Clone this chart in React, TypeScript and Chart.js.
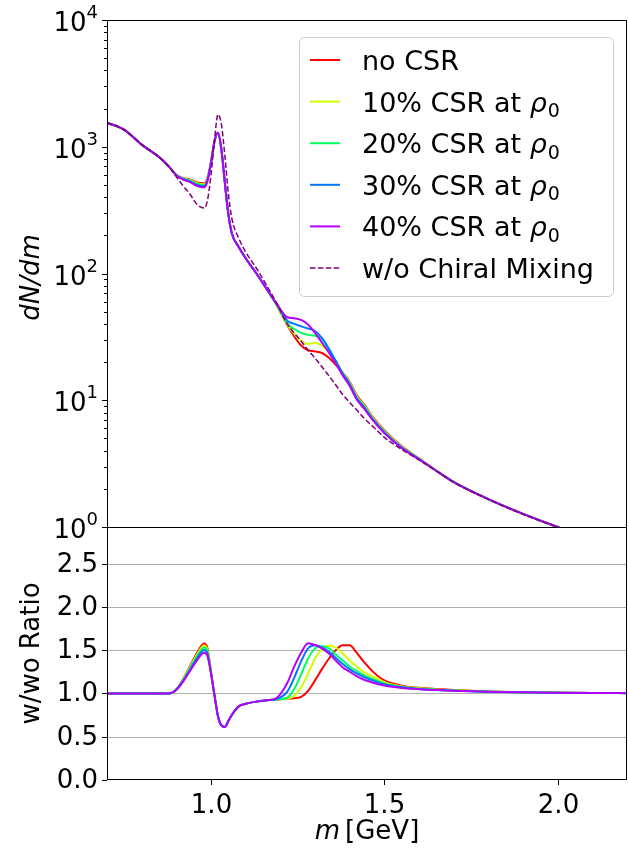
import { useEffect, useRef } from 'react';
import { Chart, registerables } from 'chart.js';

Chart.register(...registerables);

// Invariant mass grid [GeV]
const MASS = [
  0.70, 0.75, 0.80, 0.85, 0.88, 0.90, 0.92, 0.94, 0.96,
  0.98, 0.99, 1.00, 1.01, 1.02, 1.03, 1.04, 1.05, 1.06,
  1.08, 1.10, 1.13, 1.16, 1.19,
  1.22, 1.24, 1.26, 1.28, 1.30, 1.32, 1.34, 1.36, 1.38, 1.40, 1.42, 1.44,
  1.47, 1.50, 1.55, 1.60, 1.65, 1.70,
  1.80, 1.90, 2.00, 2.10, 2.20,
];

// dN/dm spectra
const DNDM_NO_CSR = [
  1550, 1360, 1040, 830, 690, 602, 568, 552, 522,
  515, 572, 762, 1100, 1290, 950, 520, 295, 208,
  162, 132, 101, 76, 56,
  39, 32.0, 27.0, 24.8, 24.3, 23.6, 21.6, 19.0, 16.5, 14.0, 11.0, 9.4,
  7.2, 5.8, 4.35, 3.48, 2.78, 2.27,
  1.66, 1.27, 1.0, 0.79, 0.63,
];
const DNDM_CSR10 = [
  1550, 1360, 1040, 830, 690, 600, 564, 546, 515,
  506, 564, 757, 1100, 1290, 950, 520, 295, 208,
  162, 132, 101, 76, 56,
  39.5, 33.5, 29.5, 27.8, 28.4, 27.0, 23.8, 20.0, 16.5, 13.8, 10.8, 9.25,
  7.1, 5.72, 4.31, 3.47, 2.78, 2.27,
  1.66, 1.27, 1.0, 0.79, 0.63,
];
const DNDM_CSR20 = [
  1550, 1360, 1040, 830, 690, 598, 560, 540, 508,
  497, 555, 752, 1100, 1290, 950, 520, 295, 208,
  162, 132, 101, 76, 56.3,
  40.5, 36.5, 34.0, 32.8, 32.3, 30.5, 25.3, 20.5, 16.4, 13.6, 10.6, 9.1,
  7.0, 5.65, 4.27, 3.45, 2.78, 2.27,
  1.66, 1.27, 1.0, 0.79, 0.63,
];
const DNDM_CSR30 = [
  1550, 1360, 1040, 830, 690, 596, 556, 533, 500,
  488, 546, 747, 1100, 1290, 950, 520, 295, 208,
  162, 132, 101, 76, 56.8,
  42.5, 40.0, 38.3, 36.8, 35.2, 31.0, 25.5, 20.3, 16.2, 13.4, 10.4, 8.9,
  6.9, 5.57, 4.23, 3.43, 2.78, 2.26,
  1.66, 1.27, 1.0, 0.79, 0.63,
];
const DNDM_CSR40 = [
  1550, 1360, 1040, 830, 690, 594, 551, 526, 490,
  478, 538, 742, 1100, 1290, 950, 520, 295, 208,
  162, 132, 101, 76, 57.5,
  45.2, 44.4, 43.0, 39.5, 34.0, 28.5, 23.8, 19.4, 15.7, 13.0, 10.2, 8.7,
  6.8, 5.5, 4.2, 3.42, 2.78, 2.26,
  1.66, 1.27, 1.0, 0.79, 0.63,
];
const DNDM_NO_MIXING = [
  1550, 1360, 1040, 830, 690, 580, 490, 420, 350,
  328, 380, 600, 1120, 1800, 1500, 850, 430, 273,
  190, 148, 111, 81, 58,
  40, 34, 29.3, 24.8, 21.5, 18.4, 15.6, 13.2, 11.1, 9.6, 8.4, 7.3,
  6.1, 5.1, 4.1, 3.38, 2.76, 2.25,
  1.65, 1.26, 0.995, 0.79, 0.63,
];

// with / without chiral mixing
const RATIO_NO_CSR = [
  1, 1, 1, 1, 1, 1.05, 1.17, 1.32, 1.47,
  1.575, 1.52, 1.25, 0.98, 0.74, 0.63, 0.612, 0.68, 0.75,
  0.85, 0.88, 0.905, 0.92, 0.93,
  0.94, 0.945, 0.96, 1.03, 1.15, 1.28, 1.40, 1.50, 1.555, 1.555, 1.47, 1.37,
  1.24, 1.15, 1.09, 1.065, 1.05, 1.038,
  1.022, 1.014, 1.01, 1.006, 1.004,
];
const RATIO_CSR10 = [
  1, 1, 1, 1, 1, 1.048, 1.163, 1.307, 1.451,
  1.552, 1.50, 1.245, 0.98, 0.74, 0.63, 0.612, 0.68, 0.75,
  0.85, 0.88, 0.905, 0.92, 0.93,
  0.94, 0.97, 1.07, 1.23, 1.40, 1.51, 1.55, 1.53, 1.46, 1.38, 1.31, 1.25,
  1.19, 1.13, 1.08, 1.06, 1.046, 1.036,
  1.021, 1.013, 1.009, 1.006, 1.004,
];
const RATIO_CSR20 = [
  1, 1, 1, 1, 1, 1.046, 1.156, 1.294, 1.432,
  1.53, 1.48, 1.24, 0.98, 0.74, 0.63, 0.612, 0.68, 0.75,
  0.85, 0.88, 0.905, 0.92, 0.93,
  0.95, 1.05, 1.22, 1.40, 1.52, 1.545, 1.52, 1.45, 1.38, 1.31, 1.26, 1.21,
  1.16, 1.115, 1.075, 1.055, 1.042, 1.033,
  1.02, 1.013, 1.008, 1.005, 1.003,
];
const RATIO_CSR30 = [
  1, 1, 1, 1, 1, 1.044, 1.148, 1.278, 1.409,
  1.50, 1.455, 1.235, 0.98, 0.74, 0.63, 0.612, 0.68, 0.75,
  0.85, 0.88, 0.905, 0.92, 0.935,
  1.02, 1.18, 1.37, 1.52, 1.555, 1.53, 1.48, 1.41, 1.34, 1.28, 1.23, 1.19,
  1.145, 1.105, 1.07, 1.052, 1.04, 1.031,
  1.019, 1.012, 1.008, 1.005, 1.003,
];
const RATIO_CSR40 = [
  1, 1, 1, 1, 1, 1.041, 1.139, 1.262, 1.385,
  1.47, 1.43, 1.23, 0.98, 0.74, 0.63, 0.612, 0.68, 0.75,
  0.85, 0.88, 0.905, 0.92, 0.95,
  1.12, 1.31, 1.47, 1.58, 1.56, 1.52, 1.46, 1.38, 1.30, 1.25, 1.20, 1.16,
  1.12, 1.09, 1.062, 1.048, 1.038, 1.03,
  1.018, 1.012, 1.008, 1.005, 1.003,
];

const SERIES_LABELS = ['no CSR', '10% CSR at ρ0', '20% CSR at ρ0', '30% CSR at ρ0', '40% CSR at ρ0'];
const SERIES_COLORS = ['#ff0000', '#ccff00', '#00ff5a', '#0077ff', '#b400ff'];
const NO_MIXING_LABEL = 'w/o Chiral Mixing';
const NO_MIXING_COLOR = '#800080';

const LOG_TICKS = [1, 10, 100, 1000, 10000];
const RATIO_TICKS = [0, 0.5, 1.0, 1.5, 2.0, 2.5];
const MASS_TICKS = [1.0, 1.5, 2.0];

const SPECTRA = [DNDM_NO_CSR, DNDM_CSR10, DNDM_CSR20, DNDM_CSR30, DNDM_CSR40];
const RATIOS = [RATIO_NO_CSR, RATIO_CSR10, RATIO_CSR20, RATIO_CSR30, RATIO_CSR40];

// canvas layout
const W = 629;
const H = 848;
const PLOT_LEFT = 107;
const PLOT_RIGHT = 627;
const PLOT_TOP = 20;
const PANEL_SPLIT = 527;
const PLOT_BOTTOM = 780;

const FONT = '"DejaVu Sans", sans-serif';
const TICK_PX = 26;
const LEGEND_PX = 27;
const TICK_FONT = `${TICK_PX}px ${FONT}`;

const pts = (ys: number[]) => MASS.map((m, i) => ({ x: m, y: ys[i] }));

function line(ctx: CanvasRenderingContext2D, x1: number, y1: number, x2: number, y2: number) {
  ctx.beginPath();
  ctx.moveTo(x1, y1);
  ctx.lineTo(x2, y2);
  ctx.stroke();
}

// draws a label where a trailing "ρ0" is typeset as italic rho with subscript zero
function drawLabel(ctx: CanvasRenderingContext2D, text: string, x: number, y: number, size: number) {
  ctx.textAlign = 'left';
  ctx.textBaseline = 'alphabetic';
  if (text.endsWith('ρ0')) {
    const head = text.slice(0, -2);
    ctx.font = `${size}px ${FONT}`;
    ctx.fillText(head, x, y);
    let cx = x + ctx.measureText(head).width;
    ctx.font = `italic ${size}px ${FONT}`;
    ctx.fillText('ρ', cx, y);
    cx += ctx.measureText('ρ').width + 1;
    ctx.font = `${Math.round(size * 0.7)}px ${FONT}`;
    ctx.fillText('0', cx, y + size * 0.2);
  } else {
    ctx.font = `${size}px ${FONT}`;
    ctx.fillText(text, x, y);
  }
}

const panelPlugin = {
  id: 'panels',
  beforeDatasetsDraw(chart: any) {
    const { ctx, chartArea: a, scales } = chart;
    const rs = scales.yRatio;
    ctx.save();
    ctx.strokeStyle = '#b0b0b0';
    ctx.lineWidth = 1;
    for (const v of RATIO_TICKS) {
      if (v === 0) continue;
      const y = Math.round(rs.getPixelForValue(v)) + 0.5;
      line(ctx, a.left, y, a.right, y);
    }
    ctx.restore();
  },
  beforeDatasetDraw(chart: any, args: any) {
    const { ctx, chartArea: a, scales } = chart;
    const s = scales[args.meta.yAxisID];
    ctx.save();
    ctx.beginPath();
    ctx.rect(a.left, s.top, a.right - a.left, s.bottom - s.top);
    ctx.clip();
  },
  afterDatasetDraw(chart: any) {
    chart.ctx.restore();
  },
  afterDatasetsDraw(chart: any) {
    const { ctx, chartArea: a, scales } = chart;
    const ys = scales.y;
    const rs = scales.yRatio;
    const xs = scales.x;
    ctx.save();
    ctx.strokeStyle = '#000';
    ctx.fillStyle = '#000';
    ctx.lineWidth = 1;

    // panel frames
    const top = Math.round(ys.top) + 0.5;
    const mid = Math.round(ys.bottom) + 0.5;
    const bot = Math.round(rs.bottom) - 0.5;
    const l = a.left + 0.5;
    const r = a.right - 0.5;
    ctx.strokeRect(l, top, r - l, bot - top);
    line(ctx, l, mid, r, mid);

    // log axis ticks
    for (let d = 0; d < 4; d++) {
      for (let k = 2; k <= 9; k++) {
        const y = Math.round(ys.getPixelForValue(k * Math.pow(10, d))) + 0.5;
        line(ctx, a.left - 3, y, a.left, y);
      }
    }
    LOG_TICKS.forEach((v, i) => {
      const y = Math.round(ys.getPixelForValue(v)) + 0.5;
      line(ctx, a.left - 5, y, a.left, y);
      const exp = String(i);
      ctx.font = `18px ${FONT}`;
      const we = ctx.measureText(exp).width;
      ctx.font = TICK_FONT;
      const wb = ctx.measureText('10').width;
      const xr = a.left - 9;
      ctx.textAlign = 'left';
      ctx.textBaseline = 'alphabetic';
      ctx.fillText('10', xr - we - wb, y + 10);
      ctx.font = `18px ${FONT}`;
      ctx.fillText(exp, xr - we, y - 3);
    });

    // ratio axis ticks
    ctx.font = TICK_FONT;
    ctx.textAlign = 'right';
    ctx.textBaseline = 'middle';
    for (const v of RATIO_TICKS) {
      const y = Math.round(rs.getPixelForValue(v)) + 0.5;
      line(ctx, a.left - 5, y, a.left, y);
      ctx.fillText(v.toFixed(1), a.left - 9, y + 1);
    }

    // mass axis ticks
    ctx.textAlign = 'center';
    ctx.textBaseline = 'alphabetic';
    for (const v of MASS_TICKS) {
      const x = Math.round(xs.getPixelForValue(v)) + 0.5;
      line(ctx, x, rs.bottom, x, rs.bottom + 5);
      ctx.fillText(v.toFixed(1), x, rs.bottom + 33);
    }

    // axis titles
    ctx.font = `italic ${TICK_PX}px ${FONT}`;
    const mW = ctx.measureText('m').width;
    ctx.font = TICK_FONT;
    const gW = ctx.measureText('[GeV]').width;
    const gap = 5;
    const cx = (a.left + a.right) / 2;
    const tx = cx - (mW + gap + gW) / 2;
    ctx.textAlign = 'left';
    ctx.font = `italic ${TICK_PX}px ${FONT}`;
    ctx.fillText('m', tx, 839);
    ctx.font = TICK_FONT;
    ctx.fillText('[GeV]', tx + mW + gap, 839);

    ctx.save();
    ctx.translate(39, (ys.top + ys.bottom) / 2 + 4);
    ctx.rotate(-Math.PI / 2);
    ctx.textAlign = 'center';
    ctx.font = `italic ${TICK_PX}px ${FONT}`;
    ctx.fillText('dN/dm', 0, 0);
    ctx.restore();

    ctx.save();
    ctx.translate(39, (rs.top + rs.bottom) / 2);
    ctx.rotate(-Math.PI / 2);
    ctx.textAlign = 'center';
    ctx.font = TICK_FONT;
    ctx.fillText('w/wo Ratio', 0, 0);
    ctx.restore();

    // legend
    const lx = 299, ly = 37, lw = 314, lh = 259;
    ctx.beginPath();
    ctx.roundRect(lx + 0.5, ly + 0.5, lw, lh, 5);
    ctx.fillStyle = 'rgba(255,255,255,0.8)';
    ctx.fill();
    ctx.strokeStyle = '#cccccc';
    ctx.stroke();
    const labels = [...SERIES_LABELS, NO_MIXING_LABEL];
    const colors = [...SERIES_COLORS, NO_MIXING_COLOR];
    labels.forEach((lab, i) => {
      const yc = 60 + i * 41.6;
      ctx.strokeStyle = colors[i];
      if (i === 5) {
        ctx.lineWidth = 1.5;
        ctx.setLineDash([5.5, 2.4]);
      } else {
        ctx.lineWidth = 2;
        ctx.setLineDash([]);
      }
      line(ctx, 310, yc, 340, yc);
      ctx.setLineDash([]);
      ctx.fillStyle = '#000';
      drawLabel(ctx, lab, 362, yc + 10, LEGEND_PX);
    });
    ctx.restore();
  },
};

export default function App() {
  const ref = useRef<HTMLCanvasElement>(null);

  useEffect(() => {
    if (!ref.current) return;
    const datasets: any[] = [];
    SPECTRA.forEach((ys, i) => {
      datasets.push({
        label: SERIES_LABELS[i],
        data: pts(ys),
        yAxisID: 'y',
        borderColor: SERIES_COLORS[i],
        borderWidth: 2,
        pointRadius: 0,
        cubicInterpolationMode: 'monotone',
        order: 20 - i,
      });
    });
    datasets.push({
      label: NO_MIXING_LABEL,
      data: pts(DNDM_NO_MIXING),
      yAxisID: 'y',
      borderColor: NO_MIXING_COLOR,
      borderWidth: 1.5,
      borderDash: [5.5, 2.4],
      pointRadius: 0,
      cubicInterpolationMode: 'monotone',
      order: 1,
    });
    RATIOS.forEach((ys, i) => {
      datasets.push({
        label: SERIES_LABELS[i] + ' ratio',
        data: pts(ys),
        yAxisID: 'yRatio',
        borderColor: SERIES_COLORS[i],
        borderWidth: 2,
        pointRadius: 0,
        cubicInterpolationMode: 'monotone',
        order: 40 - i,
      });
    });

    const chart = new Chart(ref.current, {
      type: 'line',
      data: { datasets },
      options: {
        animation: false,
        responsive: false,
        devicePixelRatio: 1,
        layout: { padding: { left: 0, right: W - PLOT_RIGHT, top: PLOT_TOP, bottom: 0 } },
        plugins: { legend: { display: false }, tooltip: { enabled: false } },
        scales: {
          x: {
            type: 'linear',
            min: 0.7,
            max: 2.2,
            position: 'bottom',
            ticks: { display: false },
            grid: { display: false },
            border: { display: false },
            afterFit: (s: any) => { s.height = H - PLOT_BOTTOM; },
          },
          // lower panel (listed first so it is stacked below the spectrum panel)
          yRatio: {
            axis: 'y',
            type: 'linear',
            min: 0,
            max: (PLOT_BOTTOM - PANEL_SPLIT) / 86.6,
            position: 'left',
            stack: 'panels',
            stackWeight: PLOT_BOTTOM - PANEL_SPLIT,
            ticks: { display: false },
            grid: { display: false },
            border: { display: false },
            afterFit: (s: any) => { s.width = PLOT_LEFT; },
          },
          y: {
            type: 'logarithmic',
            min: 1,
            max: 10000,
            position: 'left',
            stack: 'panels',
            stackWeight: PANEL_SPLIT - PLOT_TOP,
            ticks: { display: false },
            grid: { display: false },
            border: { display: false },
            afterFit: (s: any) => { s.width = PLOT_LEFT; },
          },
        } as any,
      },
      plugins: [panelPlugin],
    } as any);
    return () => chart.destroy();
  }, []);

  return (
    <div style={{ position: 'absolute', left: 0, top: 0, width: W, height: H, background: '#fff' }}>
      <canvas ref={ref} width={W} height={H} style={{ width: W, height: H, display: 'block' }} />
    </div>
  );
}
